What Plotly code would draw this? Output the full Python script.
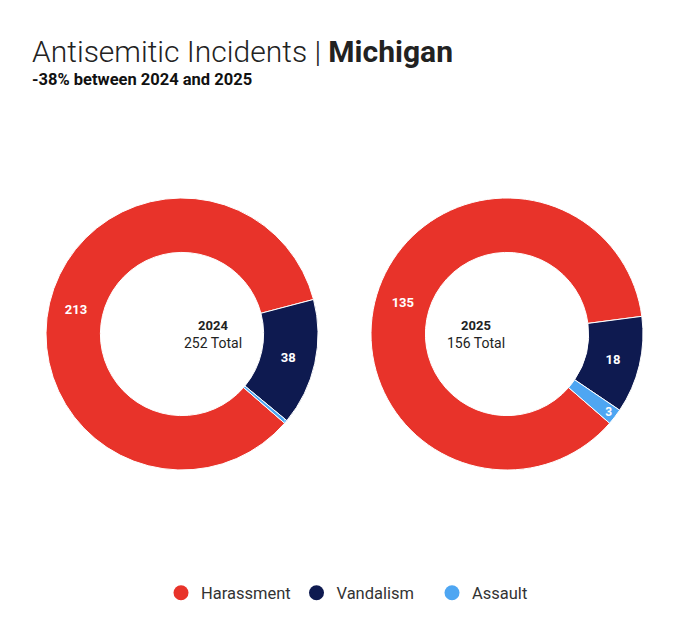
import plotly.graph_objects as go

# incident counts by type, per year
categories = ["Harassment", "Vandalism", "Assault"]
colors = ["#E8332A", "#0E1A50", "#4EA6F2"]
values_2024 = [213, 38, 1]
values_2025 = [135, 18, 3]
years = ["2024", "2025"]

W, H = 680, 637
OFF = 8  # page body margin pushes the figure 8px right/down


def px_x(v):
    return (v - OFF) / W


def px_y(v):
    return 1 - (v - OFF) / H


fig = go.Figure()

# pies placed by screen-pixel centres
centres = [(182, 334), (507, 334)]
radius = 136
for yr, vals, (cx, cy) in zip(years, [values_2024, values_2025], centres):
    fig.add_trace(go.Pie(
        labels=categories,
        values=vals,
        hole=0.6,
        sort=False,
        direction="clockwise",
        rotation=131,
        marker=dict(colors=colors, line=dict(color="white", width=1)),
        texttemplate="<b>%{value}</b>",
        textposition="inside",
        insidetextorientation="horizontal",
        textfont=dict(family="Roboto", size=13, color="white"),
        hoverinfo="label+value",
        showlegend=False,
        domain=dict(x=[px_x(cx - radius), px_x(cx + radius)],
                    y=[px_y(cy + radius), px_y(cy - radius)]),
    ))
    fig.add_annotation(
        x=px_x(cx), y=px_y(cy), xref="paper", yref="paper",
        text="<span style='font-size:13px'><b>%s</b></span><br>%d Total" % (yr, sum(vals)),
        showarrow=False, align="center",
        font=dict(family="Roboto", size=14, color="#222"),
    )

# circle markers for the legend
for name, col in zip(categories, colors):
    fig.add_trace(go.Scatter(
        x=[None], y=[None], mode="markers", name=name,
        marker=dict(size=15, color=col, symbol="circle"),
    ))

fig.add_annotation(
    x=22 / W, y=1 - 63 / H, xref="paper", yref="paper",
    xanchor="left", yanchor="bottom", showarrow=False,
    text="Antisemitic Incidents | <b>Michigan</b>",
    font=dict(family="Roboto", size=30, color="#222", weight=300),
)
fig.add_annotation(
    x=22 / W, y=1 - 83 / H, xref="paper", yref="paper",
    xanchor="left", yanchor="bottom", showarrow=False,
    text="<b>-38% between 2024 and 2025</b>",
    font=dict(family="Roboto", size=16.5, color="#111"),
)

fig.update_layout(
    width=W, height=H,
    margin=dict(l=0, r=0, t=0, b=0),
    paper_bgcolor="white", plot_bgcolor="white",
    xaxis=dict(visible=False), yaxis=dict(visible=False),
    font=dict(family="Roboto"),
    legend=dict(
        orientation="h", x=px_x(161), xanchor="left",
        y=px_y(593), yanchor="middle",
        font=dict(family="Roboto", size=16.5, color="#333"),
        itemwidth=30, entrywidth=90.5,
    ),
)

fig.write_html("out.html")
